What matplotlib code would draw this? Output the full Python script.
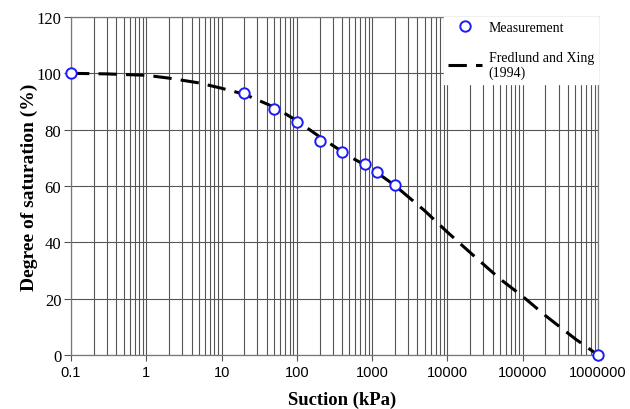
import matplotlib
matplotlib.use("Agg")
import matplotlib.pyplot as plt
from matplotlib.ticker import FixedLocator, LogLocator, NullFormatter, FixedFormatter

# Measured data
meas_suction = [0.1, 20, 50, 100, 200, 400, 800, 1150, 2000, 1000000]
meas_sat = [100, 92.9, 87.3, 82.6, 76.0, 72.0, 67.8, 65.1, 60.3, 0]

# Fredlund and Xing (1994) fitted curve
fx_suction = [0.1, 0.3, 1, 2, 5, 10, 20, 50, 100, 200, 500, 1000, 2000,
              5000, 10000, 20000, 50000, 100000, 200000, 500000, 1000000]
fx_sat = [100, 99.8, 99.3, 98.3, 96.6, 94.7, 92.6, 88.0, 83.2, 77.5, 70.5,
          66.0, 60.2, 51.2, 43.6, 36.4, 27.0, 20.8, 14.0, 5.7, 0]

x_ticks = [0.1, 1, 10, 100, 1000, 10000, 100000, 1000000]
x_ticklabels = ["0.1", "1", "10", "100", "1000", "10000", "100000", "1000000"]
y_ticks = [0, 20, 40, 60, 80, 100, 120]

fig = plt.figure(figsize=(6.3, 4.1), dpi=100)
ax = fig.add_axes([71/630, 1-356/410, (598-71)/630, (356-18)/410])

ax.set_xscale("log")
ax.set_xlim(0.1, 1000000)
ax.set_ylim(0, 120)

grid_c = "#555555"
ax.xaxis.set_major_locator(FixedLocator(x_ticks))
ax.xaxis.set_major_formatter(FixedFormatter(x_ticklabels))
ax.xaxis.set_minor_locator(LogLocator(base=10, subs=range(2, 10), numticks=20))
ax.xaxis.set_minor_formatter(NullFormatter())
ax.set_yticks(y_ticks)

ax.grid(True, which="both", axis="x", color=grid_c, lw=0.8)
ax.grid(True, which="major", axis="y", color=grid_c, lw=0.8)
ax.set_axisbelow(True)

for s in ax.spines.values():
    s.set_color("#777777")
    s.set_linewidth(0.9)

ax.tick_params(axis="x", which="major", length=4, color=grid_c, pad=3)
ax.tick_params(axis="x", which="minor", length=0)
ax.tick_params(axis="y", which="major", length=5, color=grid_c, pad=2)
for lab in ax.get_xticklabels():
    lab.set_family("Liberation Sans")
    lab.set_fontsize(10.5)
for lab in ax.get_yticklabels():
    lab.set_family("Liberation Serif")
    lab.set_fontsize(12)

ax.plot(fx_suction, fx_sat, color="black", lw=2.2, dashes=(6, 3),
        label="Fredlund and Xing\n(1994)", zorder=3, clip_on=False)
ax.plot(meas_suction, meas_sat, linestyle="none", marker="o", ms=7.5,
        mfc="white", mec="#1a1aff", mew=1.4, label="Measurement",
        zorder=4, clip_on=False)

handles, labels = ax.get_legend_handles_labels()
leg = ax.legend([handles[1], handles[0]], [labels[1], labels[0]],
                loc="upper right", bbox_to_anchor=(1, 1), borderaxespad=0,
                frameon=True, fancybox=False, edgecolor="white", framealpha=1,
                prop={"family": "Liberation Serif", "size": 10},
                handlelength=2.45, handletextpad=0.45, labelspacing=1.2,
                borderpad=0.3)
leg.set_zorder(5)

ax.set_xlabel("Suction (kPa)", family="Liberation Serif", fontweight="bold",
              fontsize=13.4)
ax.xaxis.set_label_coords((342-71)/527, (356-392)/338)
ax.set_ylabel("Degree of saturation (%)", family="Liberation Serif",
              fontweight="bold", fontsize=14)
ax.yaxis.set_label_coords((38-71)/527, 0.5)

fig.savefig("out.png", dpi=100)
